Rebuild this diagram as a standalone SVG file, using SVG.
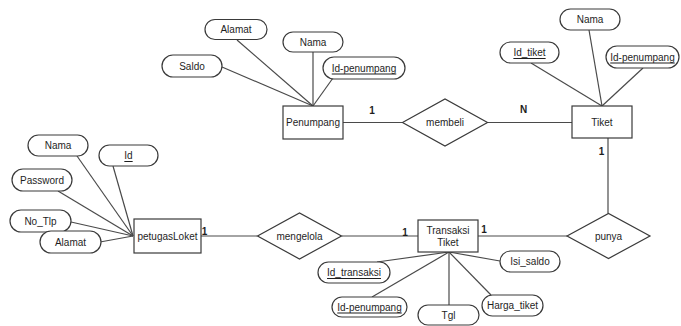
<svg xmlns="http://www.w3.org/2000/svg" width="681" height="326" viewBox="0 0 681 326">
  <style>
    .ent { fill: #fff; stroke: #3a3a3a; stroke-width: 1.2; }
    .rel { fill: #fff; stroke: #3a3a3a; stroke-width: 1.2; }
    .att { fill: #fff; stroke: #3a3a3a; stroke-width: 1.2; }
    .ln { stroke: #4a4a4a; stroke-width: 1.2; fill: none; }
    text { font-family: "Liberation Sans", Arial, sans-serif; font-size: 10px; fill: #1e1e1e; text-anchor: middle; dominant-baseline: central; }
    .key { text-decoration: underline; }
    .card { font-size: 10px; font-weight: bold; }
  </style>
  <rect width="681" height="326" fill="#fff"/>

  <!-- connectors -->
  <g id="connectors">
    <!-- Penumpang attributes -->
    <line class="ln" x1="222" y1="67" x2="313" y2="106"/>
    <line class="ln" x1="237" y1="40" x2="313" y2="106"/>
    <line class="ln" x1="313" y1="52" x2="313" y2="106"/>
    <line class="ln" x1="333" y1="78" x2="313" y2="106"/>
    <!-- Tiket attributes -->
    <line class="ln" x1="531" y1="63" x2="602" y2="106"/>
    <line class="ln" x1="589" y1="30" x2="602" y2="106"/>
    <line class="ln" x1="643" y1="68" x2="602" y2="106"/>
    <!-- petugasLoket attributes -->
    <line class="ln" x1="77" y1="156" x2="133" y2="236"/>
    <line class="ln" x1="113" y1="166" x2="133" y2="236"/>
    <line class="ln" x1="58" y1="191" x2="133" y2="236"/>
    <line class="ln" x1="71" y1="222" x2="133" y2="236"/>
    <line class="ln" x1="100" y1="242" x2="133" y2="236"/>
    <!-- Transaksi Tiket attributes -->
    <line class="ln" x1="377" y1="262" x2="449" y2="252"/>
    <line class="ln" x1="372" y1="297" x2="449" y2="252"/>
    <line class="ln" x1="449" y1="305" x2="449" y2="252"/>
    <line class="ln" x1="491" y1="295" x2="449" y2="252"/>
    <line class="ln" x1="500" y1="261" x2="449" y2="252"/>
    <!-- relationships -->
    <line class="ln" x1="343" y1="122.5" x2="402.5" y2="122.5"/>
    <line class="ln" x1="487.5" y1="122.5" x2="572" y2="122.5"/>
    <line class="ln" x1="608" y1="138" x2="608" y2="213.5"/>
    <line class="ln" x1="201" y1="236" x2="257.5" y2="236"/>
    <line class="ln" x1="341.5" y1="236" x2="418" y2="236"/>
    <line class="ln" x1="478" y1="236" x2="567" y2="236"/>
    <!-- cardinalities -->
    <text class="card" x="372" y="110">1</text>
    <text class="card" x="523.5" y="109.5">N</text>
    <text class="card" x="601.5" y="151">1</text>
    <text class="card" x="204.5" y="231">1</text>
    <text class="card" x="405" y="232">1</text>
    <text class="card" x="484" y="229">1</text>
  </g>

  <!-- entities -->
  <g id="penumpang">
    <rect class="ent" x="283" y="106" width="60" height="33"/>
    <text x="313" y="122.5">Penumpang</text>
  </g>
  <g id="tiket">
    <rect class="ent" x="572" y="106" width="60" height="32"/>
    <text x="602" y="122.5">Tiket</text>
  </g>
  <g id="petugasLoket">
    <rect class="ent" x="134" y="219" width="67" height="34"/>
    <text x="167.5" y="236">petugasLoket</text>
  </g>
  <g id="transaksiTiket">
    <rect class="ent" x="418" y="220" width="60" height="32"/>
    <text x="448" y="230.5">Transaksi</text>
    <text x="448" y="242">Tiket</text>
  </g>

  <!-- relationships -->
  <g id="membeli">
    <polygon class="rel" points="402.5,122.5 445,99 487.5,122.5 445,146"/>
    <text x="445" y="122.5">membeli</text>
  </g>
  <g id="mengelola">
    <polygon class="rel" points="257.5,236 299.5,213 341.5,236 299.5,259"/>
    <text x="299.5" y="236">mengelola</text>
  </g>
  <g id="punya">
    <polygon class="rel" points="567,236 608.5,213.5 650,236 608.5,258.5"/>
    <text x="608.5" y="236">punya</text>
  </g>

  <!-- attributes of Penumpang -->
  <g id="att-penumpang-saldo">
    <rect class="att" x="162" y="55" width="60" height="22" rx="11"/>
    <text x="192" y="66">Saldo</text>
  </g>
  <g id="att-penumpang-alamat">
    <rect class="att" x="205" y="19.5" width="62" height="20" rx="10"/>
    <text x="236" y="29.5">Alamat</text>
  </g>
  <g id="att-penumpang-nama">
    <rect class="att" x="283" y="32" width="60" height="20" rx="10"/>
    <text x="313" y="42">Nama</text>
  </g>
  <g id="att-penumpang-id">
    <rect class="att" x="323" y="57" width="82" height="22" rx="11"/>
    <text class="key" x="364" y="68">Id-penumpang</text>
  </g>

  <!-- attributes of Tiket -->
  <g id="att-tiket-id">
    <rect class="att" x="500" y="42" width="59" height="21" rx="10.5"/>
    <text class="key" x="529.5" y="52.5">Id_tiket</text>
  </g>
  <g id="att-tiket-nama">
    <rect class="att" x="560" y="9" width="60" height="21" rx="10.5"/>
    <text x="590" y="19.5">Nama</text>
  </g>
  <g id="att-tiket-idpenumpang">
    <rect class="att" x="606" y="46" width="73" height="22" rx="11"/>
    <text class="key" x="642.5" y="57">Id-penumpang</text>
  </g>

  <!-- attributes of petugasLoket -->
  <g id="att-loket-nama">
    <rect class="att" x="28" y="135" width="60" height="21" rx="10.5"/>
    <text x="58" y="145.5">Nama</text>
  </g>
  <g id="att-loket-id">
    <rect class="att" x="99" y="145" width="59" height="21" rx="10.5"/>
    <text class="key" x="128.5" y="155.5">Id</text>
  </g>
  <g id="att-loket-password">
    <rect class="att" x="12" y="169" width="60" height="22" rx="11"/>
    <text x="42" y="180">Password</text>
  </g>
  <g id="att-loket-notlp">
    <rect class="att" x="10" y="210" width="61" height="22" rx="11"/>
    <text x="40.5" y="221">No_Tlp</text>
  </g>
  <g id="att-loket-alamat">
    <rect class="att" x="40" y="231" width="61" height="22" rx="11"/>
    <text x="70.5" y="242">Alamat</text>
  </g>

  <!-- attributes of Transaksi Tiket -->
  <g id="att-trx-id">
    <rect class="att" x="318" y="262" width="72" height="21" rx="10.5"/>
    <text class="key" x="354" y="272.5">Id_transaksi</text>
  </g>
  <g id="att-trx-idpenumpang">
    <rect class="att" x="332" y="297" width="75" height="20" rx="10"/>
    <text class="key" x="369.5" y="307">Id-penumpang</text>
  </g>
  <g id="att-trx-tgl">
    <rect class="att" x="418" y="305" width="61" height="20" rx="10"/>
    <text x="448.5" y="315.5">Tgl</text>
  </g>
  <g id="att-trx-harga">
    <rect class="att" x="482" y="295" width="61" height="21" rx="10.5"/>
    <text x="512.5" y="305.5">Harga_tiket</text>
  </g>
  <g id="att-trx-saldo">
    <rect class="att" x="500" y="251" width="60" height="21" rx="10.5"/>
    <text x="530" y="261.5">Isi_saldo</text>
  </g>
</svg>
